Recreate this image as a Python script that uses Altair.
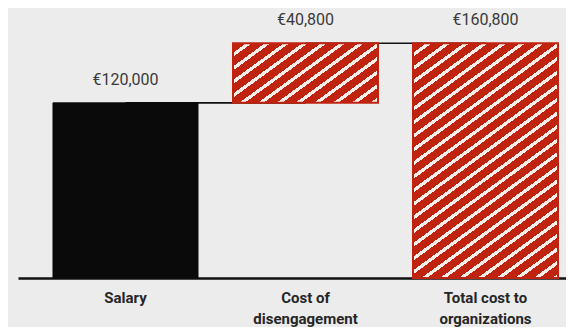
import math
import altair as alt
import pandas as pd

# ---- data ----
categories = ["Salary", "Cost of\ndisengagement", "Total cost to\norganizations"]
bar_start = [0, 120000, 0]
bar_end = [120000, 160800, 160800]
value_labels = ["€120,000", "€40,800", "€160,800"]

df = pd.DataFrame({
    "idx": [0, 1, 2],
    "cat": categories,
    "start": bar_start,
    "end": bar_end,
    "label": value_labels,
})

# connector segments: from the top of one bar to the next bar
conn = pd.DataFrame({
    "seg": [0, 0, 1, 1],
    "cat": [categories[0], categories[1], categories[1], categories[2]],
    "start": [bar_end[0], bar_end[0], bar_end[1], bar_end[1]],
})

# ---- style ----
W, H = 548, 270
YMAX = 185000
RED = "#c0230f"
STRIPE = "#fbefeb"
BLACK = "#0a0a0a"
BG = "#ececec"
PAD_IN, PAD_OUT = 0.1944, 0.1194
bandwidth = W / (3 - PAD_IN + 2 * PAD_OUT) * (1 - PAD_IN)


def hatch(w, h, angle_deg=36, period=11.0, white_frac=0.3):
    s = math.sin(math.radians(angle_deg))
    co = math.cos(math.radians(angle_deg))
    L = w * s + h * co
    c = L / (w * w * s * s + h * h * co * co)
    p, q = c * w * s, c * h * co
    n = L / period
    stops = []
    k = 0
    while k / n < 1:
        a = k / n
        b = min(1.0, (k + 1 - white_frac) / n)
        e = min(1.0, (k + 1) / n)
        stops.append({"offset": round(a, 5), "color": RED})
        stops.append({"offset": round(b, 5), "color": RED})
        if b < 1.0:
            stops.append({"offset": round(b, 5), "color": STRIPE})
            stops.append({"offset": round(e, 5), "color": STRIPE})
        k += 1
    return {"gradient": "linear", "stops": stops,
            "x1": 0, "y1": 0, "x2": round(p, 5), "y2": round(q, 5)}


xscale = alt.Scale(domain=categories, paddingInner=PAD_IN, paddingOuter=PAD_OUT, align=0.814)
yscale = alt.Scale(domain=[0, YMAX], nice=False)

xenc = alt.X(
    "cat:N",
    scale=xscale,
    title=None,
    axis=alt.Axis(
        labelAngle=0,
        labelFont="Roboto",
        labelFontSize=15,
        labelFontWeight="bold",
        labelColor="#262626",
        labelPadding=12,
        labelLineHeight=21,
        labelExpr="split(datum.label, '\\n')",
        ticks=False,
        domainColor="#111111",
        domainWidth=2.5,
        labelLimit=200,
    ),
)
yenc = alt.Y("start:Q", scale=yscale, axis=None)

base = alt.Chart(df)

salary = base.transform_filter(alt.datum.idx == 0).mark_bar(
    color=BLACK, stroke=BLACK, strokeWidth=1
).encode(x=xenc, y=yenc, y2="end:Q")
cost = base.transform_filter(alt.datum.idx == 1).mark_bar(
    color=hatch(bandwidth, (bar_end[1] - bar_start[1]) / YMAX * H),
    stroke=RED, strokeWidth=2,
).encode(x=xenc, y=yenc, y2="end:Q")
total = base.transform_filter(alt.datum.idx == 2).mark_bar(
    color=hatch(bandwidth, (bar_end[2] - bar_start[2]) / YMAX * H),
    stroke=RED, strokeWidth=2,
).encode(x=xenc, y=yenc, y2="end:Q")

labels = base.mark_text(
    font="Roboto", fontSize=16, color="#3a3a3a", baseline="alphabetic", dy=-18
).encode(
    x=xenc,
    y=alt.Y("end:Q", scale=yscale, axis=None),
    text="label:N",
)

connectors = alt.Chart(conn).mark_line(color="#111111", strokeWidth=1.6).encode(
    x=xenc,
    y=yenc,
    detail="seg:N",
)

chart = (
    alt.layer(connectors, salary, cost, total, labels)
    .properties(
        width=W,
        height=H,
        padding={"left": 10, "top": 0, "right": 0, "bottom": 1},
        background=BG,
    )
    .configure_view(stroke=None)
)

chart.save("out.html", embed_options={"renderer": "svg", "actions": False})
